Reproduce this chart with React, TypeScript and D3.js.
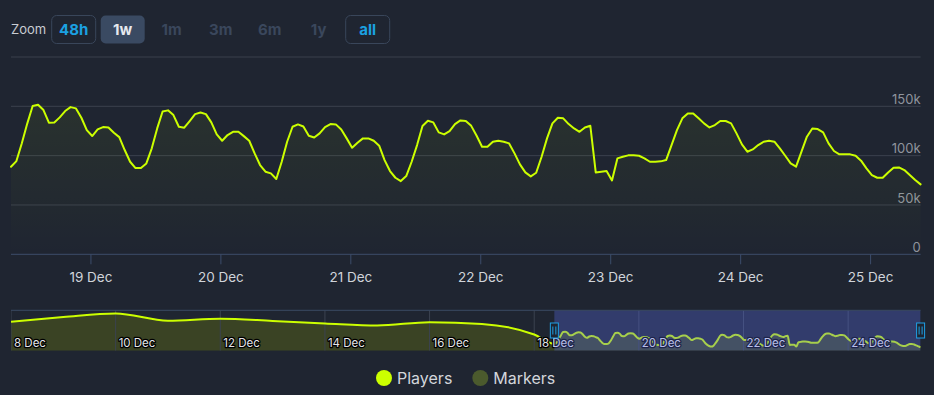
import * as d3 from 'd3';
import { useMemo } from 'react';

// hourly players (thousands), first sample 18 Dec 09:14 UTC
const START = Date.UTC(2023, 11, 18, 9, 14);
const HOUR = 3600 * 1000;
const playersK = [
  88.8, 94.5, 112.5, 132.5, 150.3, 151.6, 146.2, 133.4, 133.7, 138.8, 145.2, 149.2, 147.9, 138.4, 125.9, 119.9,
  126.6, 129.0, 128.6, 123.2, 118.8, 105.7, 93.8, 87.4, 87.4, 92.1, 107.4, 127.6, 144.8, 145.9, 141.1, 129.3,
  128.3, 135.1, 142.1, 143.8, 142.1, 133.7, 121.5, 115.1, 120.9, 124.2, 124.2, 119.8, 115.1, 102.3, 90.5, 83.7,
  82.0, 76.3, 93.8, 114.1, 129.3, 131.7, 129.6, 120.2, 118.4, 122.6, 129.0, 132.0, 131.7, 126.6, 117.5, 108.0,
  113.1, 117.5, 117.5, 115.1, 110.1, 95.5, 84.4, 77.6, 74.2, 79.3, 93.8, 110.7, 130.0, 135.4, 133.7, 123.6,
  121.5, 124.9, 132.0, 135.7, 135.2, 130.2, 120.2, 109.0, 109.0, 114.1, 115.1, 114.1, 112.4, 102.3, 91.1, 83.0,
  79.0, 82.7, 98.9, 117.5, 132.7, 138.4, 137.8, 132.0, 127.6, 124.2, 128.6, 130.3, 83.0, 83.7, 84.4, 74.9,
  97.2, 98.9, 100.3, 100.3, 99.9, 97.2, 93.8, 93.8, 94.2, 95.5, 110.7, 125.9, 137.8, 142.8, 142.8, 137.8,
  132.7, 128.6, 131.0, 135.1, 135.1, 132.7, 122.6, 111.4, 104.0, 106.3, 110.7, 114.1, 115.1, 114.1, 107.4, 99.9,
  92.1, 88.8, 104.0, 119.2, 127.6, 126.9, 123.6, 112.4, 104.7, 101.3, 101.3, 101.3, 99.9, 94.9, 87.1, 80.3,
  77.6, 77.6, 83.0, 87.8, 88.1, 85.4, 80.3, 75.3, 70.9,
];

// navigator: daily points 8 Dec .. 18 Dec before the hourly part
const navDays = [8, 9, 10, 11, 12, 13, 14, 15, 16, 17, 18];
const navDailyK = [204, 228, 247, 209, 219, 208, 195, 184, 201, 192, 137];

const yTicksK = [0, 50, 100, 150, 200];
const zoomButtons = ['48h', '1w', '1m', '3m', '6m', '1y', 'all'];
const legendItems = ['Players', 'Markers'];

const BG = '#1f2531';
const LINE = '#ccff00';
const FONT = 'Inter, "Noto Sans", sans-serif';

export default function App() {
  const width = 934;
  const height = 395;
  const left = 11;
  const right = 920.6;
  const plotTop = 57;
  const plotBottom = 254.3;
  const navTop = 310.3;
  const navBottom = 350.7;

  const hourly = useMemo(
    () => playersK.map((v, i) => ({ t: new Date(START + i * HOUR), v })),
    []
  );
  const endDate = hourly[hourly.length - 1].t;

  const x = useMemo(
    () => d3.scaleUtc().domain([hourly[0].t, endDate]).range([left, right]),
    []
  );
  const y = useMemo(() => d3.scaleLinear().domain([0, 200]).range([plotBottom, plotTop]), []);

  const linePath = useMemo(
    () =>
      d3
        .line<{ t: Date; v: number }>()
        .x((d) => x(d.t))
        .y((d) => y(d.v))(hourly),
    []
  );
  const areaPath = useMemo(
    () =>
      d3
        .area<{ t: Date; v: number }>()
        .x((d) => x(d.t))
        .y0(plotBottom)
        .y1((d) => y(d.v))(hourly),
    []
  );

  const navData = useMemo(
    () => [
      ...navDays.map((d, i) => ({ t: new Date(Date.UTC(2023, 11, d)), v: navDailyK[i] })),
      ...hourly,
    ],
    []
  );
  const nx = useMemo(
    () => d3.scaleUtc().domain([new Date(Date.UTC(2023, 11, 8)), endDate]).range([left, right]),
    []
  );
  const ny = useMemo(() => d3.scaleLinear().domain([53, 263]).range([navBottom, navTop]), []);
  const navLine = d3
    .line<{ t: Date; v: number }>()
    .x((d) => nx(d.t))
    .y((d) => ny(d.v))
    .curve(d3.curveMonotoneX)(navData);
  const navArea = d3
    .area<{ t: Date; v: number }>()
    .x((d) => nx(d.t))
    .y0(navBottom)
    .y1((d) => ny(d.v))
    .curve(d3.curveMonotoneX)(navData);
  const navTicks = d3.utcDay.range(new Date(Date.UTC(2023, 11, 8)), endDate, 2);
  const selX0 = nx(hourly[0].t);
  const selX1 = nx(endDate);

  const dayTicks = x.ticks(d3.utcDay.every(1)!);
  const fmt = d3.utcFormat('%-d %b');

  return (
    <svg
      width={width}
      height={height}
      style={{ position: 'absolute', left: 0, top: 0, background: BG, fontFamily: FONT }}
    >
      <defs>
        <linearGradient id="areaGrad" x1="0" y1="0" x2="0" y2="1">
          <stop offset="0%" stopColor={LINE} stopOpacity={0.06} />
          <stop offset="100%" stopColor={LINE} stopOpacity={0} />
        </linearGradient>
        <clipPath id="navClip">
          <rect x={left} y={navTop} width={right - left} height={navBottom - navTop} />
        </clipPath>
      </defs>
      <rect width={width} height={height} fill={BG} />

      {/* range selector */}
      <text x={11} y={34} fontSize={13} fill="#c8ccd2">
        Zoom
      </text>
      {zoomButtons.map((b, i) => {
        const cx = 73.7 + i * 49;
        const boxed = b === '48h' || b === 'all';
        const active = b === '1w';
        return (
          <g key={b}>
            {(boxed || active) && (
              <rect
                x={cx - 22}
                y={15.5}
                width={44}
                height={28}
                rx={5}
                fill={active ? '#3a4a62' : 'none'}
                stroke={active ? 'none' : '#39465a'}
              />
            )}
            <text
              x={cx}
              y={35}
              textAnchor="middle"
              fontSize={15}
              fontWeight={700}
              fill={active ? '#e6e9ee' : boxed ? '#1ba1e2' : '#3a475c'}
            >
              {b}
            </text>
          </g>
        );
      })}

      {/* grid */}
      {yTicksK.map((t) => (
        <line
          key={t}
          x1={left}
          x2={right}
          y1={y(t)}
          y2={y(t)}
          stroke={t === 0 ? '#3c4d6b' : '#3b414d'}
          strokeWidth={1}
        />
      ))}
      {yTicksK
        .filter((t) => t < 200)
        .map((t) => (
          <text key={t} x={right} y={y(t) - 2.3} textAnchor="end" fontSize={13} fill="#8f949d">
            {t === 0 ? '0' : `${t}k`}
          </text>
        ))}

      {/* x axis */}
      {dayTicks.map((d) => (
        <g key={+d}>
          <line x1={x(d)} x2={x(d)} y1={plotBottom} y2={plotBottom + 10} stroke="#3c4d6b" />
          <text x={x(d)} y={281.5} textAnchor="middle" fontSize={13.5} fill="#d0d4da">
            {fmt(d)}
          </text>
        </g>
      ))}

      {/* series */}
      <path d={areaPath ?? ''} fill="url(#areaGrad)" />
      <path
        d={linePath ?? ''}
        fill="none"
        stroke={LINE}
        strokeWidth={2}
        strokeLinejoin="round"
        strokeLinecap="round"
      />

      {/* navigator */}
      <g clipPath="url(#navClip)">
        <path d={navArea ?? ''} fill="#3a4324" />
        {navTicks.map((d) => (
          <line key={+d} x1={nx(d)} x2={nx(d)} y1={navTop} y2={navBottom} stroke="#3b4350" />
        ))}
        <path d={navLine ?? ''} fill="none" stroke={LINE} strokeWidth={2} />
        {navTicks.map((d) => (
          <text
            key={+d}
            x={nx(d) + 3}
            y={347}
            fontSize={11.5}
            fill="#e4e6ea"
            stroke="#000"
            strokeWidth={2.5}
            strokeLinejoin="round"
            paintOrder="stroke"
          >
            {fmt(d)}
          </text>
        ))}
        <rect
          x={selX0}
          y={navTop}
          width={selX1 - selX0}
          height={navBottom - navTop}
          fill="rgba(90,110,230,0.33)"
        />
      </g>
      <line x1={left} x2={right} y1={navTop} y2={navTop} stroke="#3a4a63" />
      {[selX0, selX1].map((hx) => (
        <g key={hx}>
          <rect x={hx - 4} y={323} width={8} height={15} fill={BG} stroke="#1ea0e6" strokeWidth={1} />
          <line x1={hx - 1.5} x2={hx - 1.5} y1={326.5} y2={334.5} stroke="#1ea0e6" />
          <line x1={hx + 1.5} x2={hx + 1.5} y1={326.5} y2={334.5} stroke="#1ea0e6" />
        </g>
      ))}

      {/* legend */}
      {legendItems.map((name, i) => {
        const cx = i === 0 ? 384 : 480.3;
        return (
          <g key={name}>
            <circle cx={cx} cy={378} r={8} fill={i === 0 ? LINE : '#4b5a2d'} />
            <text x={cx + 13} y={384.3} fontSize={16} fill="#d3d6db">
              {name}
            </text>
          </g>
        );
      })}
    </svg>
  );
}
